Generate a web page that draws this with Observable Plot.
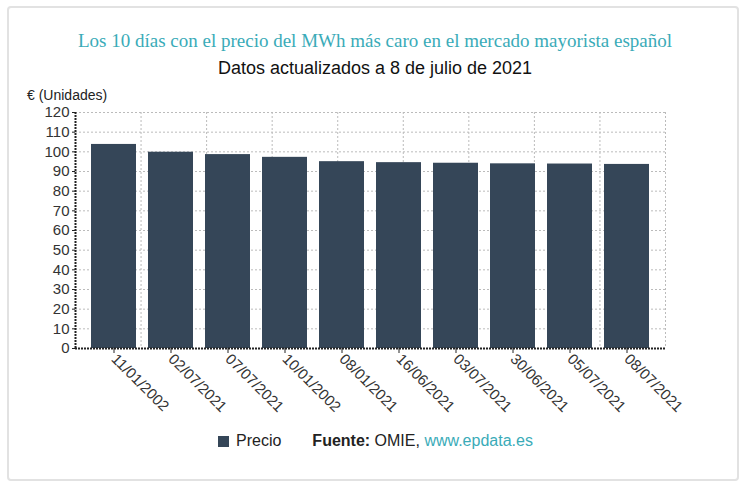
<!DOCTYPE html>
<html>
<head>
<meta charset="utf-8">
<script src="https://cdn.jsdelivr.net/npm/d3@7"></script>
<script src="https://cdn.jsdelivr.net/npm/@observablehq/plot@0.6"></script>
<style>
  html, body { margin: 0; padding: 0; background: #fff; }
  #wrap { position: relative; width: 750px; height: 491px; overflow: hidden; font-family: "Liberation Sans", Arial, sans-serif; }
  #frame { position: absolute; left: 7px; top: 6px; width: 732px; height: 475px; border: 2px solid #e2e2e2; border-radius: 4px; box-sizing: border-box; }
  #title { position: absolute; left: 0; width: 750px; top: 30px; text-align: center; font-family: "Liberation Serif", "Times New Roman", serif; font-size: 19px; color: #3aabb8; }
  #subtitle { position: absolute; left: 0; width: 750px; top: 58px; text-align: center; font-size: 18px; color: #111; }
  #unit { position: absolute; left: 27px; top: 87px; font-size: 14px; color: #222; }
  .layer { position: absolute; left: 0; top: 100px; }
  #legend { position: absolute; left: 218px; top: 432px; font-size: 16px; color: #222; white-space: nowrap; }
  #legend .sw { display: inline-block; width: 11px; height: 11px; background: #354658; margin-right: 7px; vertical-align: -1px; }
  #legend .src { margin-left: 31px; }
  #legend a { color: #3aabb8; text-decoration: none; }
</style>
</head>
<body>
<div id="wrap">
  <div id="frame"></div>
  <div id="title">Los 10 días con el precio del MWh más caro en el mercado mayorista español</div>
  <div id="subtitle">Datos actualizados a 8 de julio de 2021</div>
  <div id="unit">€ (Unidades)</div>
  <div id="grid" class="layer"></div>
  <div id="chart" class="layer"></div>
  <div id="legend"><span class="sw"></span>Precio<span class="src"><b>Fuente:</b> OMIE, <a>www.epdata.es</a></span></div>
</div>
<script>
const fechas = ["11/01/2002","02/07/2021","07/07/2021","10/01/2002","08/01/2021","16/06/2021","03/07/2021","30/06/2021","05/07/2021","08/07/2021"];
const precios = [103.76, 99.8, 98.6, 97.2, 95.0, 94.5, 94.2, 93.9, 93.8, 93.6];
const yTicks = [0, 10, 20, 30, 40, 50, 60, 70, 80, 90, 100, 110, 120];
const gridCols = [0, 1, 2, 3, 4, 5, 6, 7, 8, 9];

const data = fechas.map((f, i) => ({fecha: f, precio: precios[i]}));

const common = {
  width: 750, height: 330,
  marginLeft: 75, marginRight: 85, marginTop: 12, marginBottom: 82,
  style: {background: "transparent", overflow: "visible", fontFamily: "'Liberation Sans', Arial, sans-serif", color: "#333"}
};

const grid = Plot.plot({
  ...common,
  x: {type: "linear", domain: [0, 9], axis: null},
  y: {domain: [0, 120], axis: null},
  marks: [
    Plot.ruleY(yTicks.slice(1), {stroke: "#bbb", strokeDasharray: "2,2"}),
    Plot.ruleX(gridCols.slice(1), {stroke: "#bbb", strokeDasharray: "2,2"}),
    Plot.ruleX([0], {stroke: "#222", strokeWidth: 2, strokeDasharray: "2,1"})
  ]
});
document.getElementById("grid").append(grid);

const chart = Plot.plot({
  ...common,
  x: {domain: fechas, paddingInner: 0.215, paddingOuter: 0.25, label: null},
  y: {domain: [0, 120], label: null},
  marks: [
    Plot.barY(data, {x: "fecha", y: "precio", fill: "#354658"}),
    Plot.axisX({tickRotate: 45, fontSize: 15, tickSize: 5, tickPadding: 3, label: null, stroke: "#222"}),
    Plot.axisY({ticks: yTicks, tickSize: 3, tickPadding: 3, fontSize: 15, label: null, stroke: "#222"}),
    Plot.ruleY([0], {stroke: "#222", strokeWidth: 2, strokeDasharray: "2,1"})
  ]
});
document.getElementById("chart").append(chart);
</script>
</body>
</html>
